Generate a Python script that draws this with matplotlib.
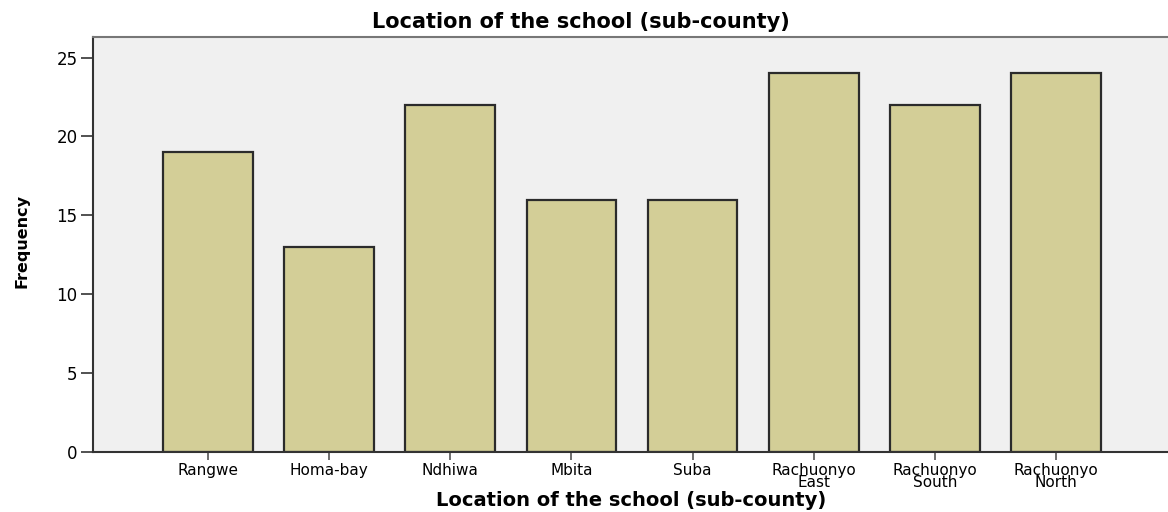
import numpy as np
import matplotlib.pyplot as plt

# data
categories = ["Rangwe", "Homa-bay", "Ndhiwa", "Mbita", "Suba",
              "Rachuonyo\nEast", "Rachuonyo\nSouth", "Rachuonyo\nNorth"]
frequency = [19, 13, 22, 16, 16, 24, 22, 24]
y_ticks = [0, 5, 10, 15, 20, 25]

fig = plt.figure(figsize=(11.68, 5.12), dpi=100)
ax = fig.add_axes([93/1168, 1 - 452/512, 1 - 93/1168, (452 - 37)/512])
ax.set_facecolor("#f0f0f0")

x = np.arange(len(categories))
ax.bar(x, frequency, width=0.74, color="#d3ce97", edgecolor="#2b2b2b", linewidth=1.6, zorder=2)

ax.set_xlim(-0.948, 7.923)
ax.set_ylim(0, 26.3)
ax.set_xticks(x)
ax.set_xticklabels(categories, fontsize=11, linespacing=0.75, family="DejaVu Sans")
ax.set_yticks(y_ticks)
ax.set_yticklabels([str(t) for t in y_ticks], fontsize=12, family="DejaVu Sans")
ax.tick_params(axis="y", length=9, width=1.2, color="#333333", pad=2)
ax.tick_params(axis="x", length=6, width=1.2, color="#555555", pad=2)

for side in ["left", "bottom"]:
    ax.spines[side].set_color("#333333")
    ax.spines[side].set_linewidth(1.5)
ax.spines["top"].set_color("#777777")
ax.spines["top"].set_linewidth(1.5)
ax.spines["right"].set_visible(False)

fig.text(0.497, 1 - 22/512, "Location of the school (sub-county)", ha="center", va="center",
         fontsize=15, fontweight="bold", family="DejaVu Sans")
fig.text(0.54, 1 - 500/512, "Location of the school (sub-county)", ha="center", va="center",
         fontsize=14, fontweight="bold", family="DejaVu Sans")
fig.text(22/1168, 1 - 241/512, "Frequency", ha="center", va="center", rotation=90,
         fontsize=11.5, fontweight="bold", family="DejaVu Sans")

plt.savefig("out.png", dpi=100)
